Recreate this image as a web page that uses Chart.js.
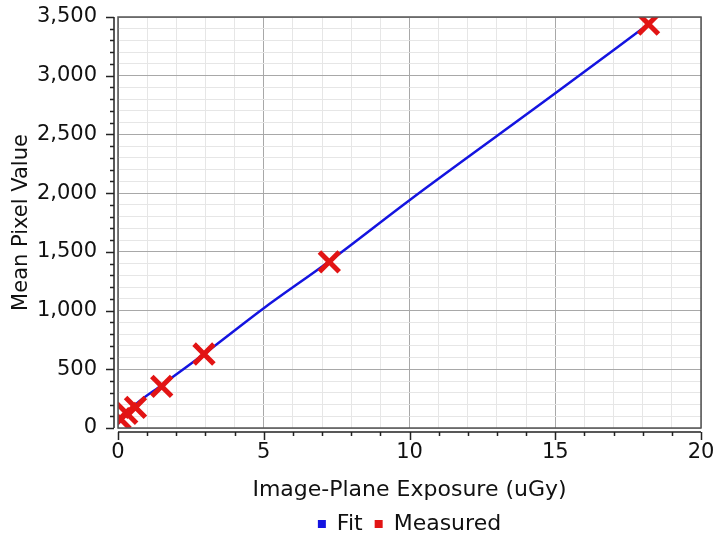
<!DOCTYPE html>
<html>
<head>
<meta charset="utf-8">
<script src="https://cdn.jsdelivr.net/npm/chart.js@4/dist/chart.umd.min.js"></script>
<style>
  html, body { margin: 0; padding: 0; background: #fff; }
  #wrap { width: 715px; height: 535px; }
</style>
</head>
<body>
<div id="wrap"><canvas id="chart" width="715" height="535"></canvas></div>
<script>
// values
const fitX = [0, 0.6, 1.5, 2.95, 5, 7.25, 10, 15, 18.2];
const fitY = [35, 200, 365, 630, 1020, 1420, 1940, 2850, 3440];
const measuredX = [0.07, 0.3, 0.6, 1.5, 2.95, 7.25, 18.2];
const measuredY = [80, 125, 175, 355, 630, 1415, 3440];
const xTicks = [0, 5, 10, 15, 20];
const yTicks = [0, 500, 1000, 1500, 2000, 2500, 3000, 3500];

const font = "'DejaVu Sans', sans-serif";

// detached axes: frame round plot area, axis lines + ticks offset outside
const axisPlugin = {
  id: 'axisPlugin',
  afterDraw(chart) {
    const ctx = chart.ctx;
    const a = chart.chartArea;
    const xs = chart.scales.x, ys = chart.scales.y;
    const gap = 4;
    ctx.save();
    ctx.strokeStyle = '#555';
    ctx.lineWidth = 1.5;
    ctx.strokeRect(a.left, a.top, a.right - a.left, a.bottom - a.top);

    ctx.strokeStyle = '#222';
    ctx.lineWidth = 1.5;
    ctx.beginPath();
    // x axis
    const yAx = a.bottom + gap;
    ctx.moveTo(a.left, yAx); ctx.lineTo(a.right, yAx);
    for (let v = xs.min; v <= xs.max; v += 1) {
      const px = Math.round(xs.getPixelForValue(v)) + 0.5;
      const len = xTicks.includes(v) ? 8 : 4;
      ctx.moveTo(px, yAx); ctx.lineTo(px, yAx + len);
    }
    // y axis
    const xAx = a.left - gap;
    ctx.moveTo(xAx, a.top); ctx.lineTo(xAx, a.bottom);
    for (let v = ys.min; v <= ys.max; v += 100) {
      const py = Math.round(ys.getPixelForValue(v)) + 0.5;
      const len = yTicks.includes(v) ? 8 : 4;
      ctx.moveTo(xAx, py); ctx.lineTo(xAx - len, py);
    }
    ctx.stroke();
    ctx.restore();
  }
};

function noPad(scale) {
  scale.paddingTop = 0;
  scale.paddingBottom = 0;
  scale.paddingLeft = 0;
  scale.paddingRight = 0;
}

new Chart(document.getElementById('chart'), {
  type: 'scatter',
  data: {
    datasets: [
      {
        label: 'Fit',
        type: 'line',
        data: fitX.map((x, i) => ({ x: x, y: fitY[i] })),
        borderColor: '#1414e0',
        backgroundColor: '#1414e0',
        borderWidth: 2.5,
        pointRadius: 0,
        cubicInterpolationMode: 'monotone',
        order: 2
      },
      {
        label: 'Measured',
        data: measuredX.map((x, i) => ({ x: x, y: measuredY[i] })),
        pointStyle: 'crossRot',
        pointRadius: 14,
        pointBorderWidth: 5,
        borderColor: '#e21414',
        backgroundColor: '#e21414',
        order: 1
      }
    ]
  },
  options: {
    responsive: false,
    animation: false,
    layout: { autoPadding: false, padding: { top: 17, right: 14, left: 0, bottom: 0 } },
    plugins: {
      tooltip: { enabled: false },
      legend: {
        position: 'bottom',
        fullSize: false,
        maxHeight: 34,
        labels: {
          font: { family: font, size: 22 },
          color: '#111',
          usePointStyle: true,
          pointStyle: 'rect',
          boxWidth: 8,
          boxHeight: 8,
          padding: 12,
          generateLabels(chart) {
            return chart.data.datasets.map((d, i) => ({
              text: d.label,
              fillStyle: d.borderColor,
              strokeStyle: d.borderColor,
              lineWidth: 0,
              pointStyle: 'rect',
              datasetIndex: i,
              fontColor: '#111'
            }));
          }
        }
      }
    },
    scales: {
      x: {
        type: 'linear',
        min: 0,
        max: 20,
        border: { display: false },
        afterFit(scale) { noPad(scale); scale.height = 73; },
        ticks: {
          stepSize: 1,
          autoSkip: false,
          maxRotation: 0,
          padding: 12,
          color: '#111',
          font: { family: font, size: 21 },
          callback: v => xTicks.includes(v) ? String(v) : ''
        },
        grid: {
          drawTicks: false,
          lineWidth: 1,
          color: c => xTicks.includes(c.tick.value) ? '#a8a8a8' : '#e6e6e6'
        },
        title: {
          display: true,
          text: 'Image-Plane Exposure (uGy)',
          color: '#111',
          font: { family: font, size: 22 },
          padding: { top: 2, bottom: -2 }
        }
      },
      y: {
        min: 0,
        max: 3500,
        border: { display: false },
        afterFit(scale) { noPad(scale); scale.width = 118; },
        ticks: {
          stepSize: 100,
          autoSkip: false,
          padding: 21,
          color: '#111',
          font: { family: font, size: 21 },
          callback: v => yTicks.includes(v) ? v.toLocaleString('en-US') : ''
        },
        grid: {
          drawTicks: false,
          lineWidth: 1,
          color: c => yTicks.includes(c.tick.value) ? '#a8a8a8' : '#e6e6e6'
        },
        title: {
          display: true,
          text: 'Mean Pixel Value',
          color: '#111',
          font: { family: font, size: 21 },
          padding: { top: 9, bottom: 4 }
        }
      }
    }
  },
  plugins: [axisPlugin]
});
</script>
</body>
</html>
